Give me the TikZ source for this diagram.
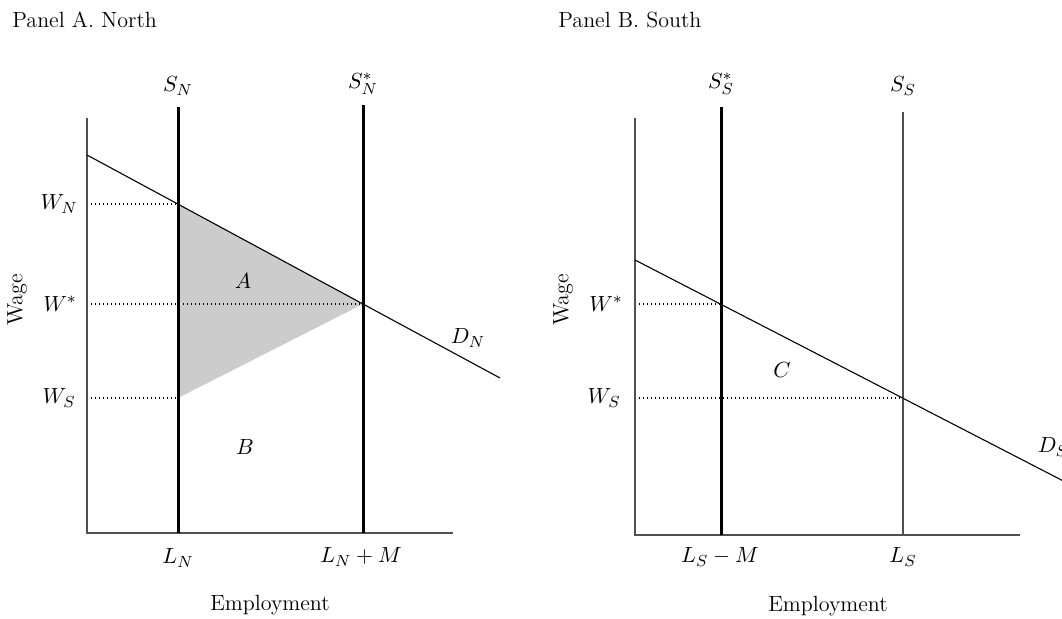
\documentclass[tikz,border=0pt]{standalone}
\usepackage{tikz}
\usetikzlibrary{calc}
\definecolor{grisf}{RGB}{80,80,80}
\definecolor{sombra}{RGB}{204,204,204}
\tikzset{
  eje/.style={draw=grisf, line width=0.55pt},
  ofgruesa/.style={draw=black, line width=1.5pt},
  dem/.style={draw=black, line width=0.55pt},
  guia/.style={draw=black, line width=0.55pt, dash pattern=on 0.5pt off 1.5pt},
  etq/.style={font=\fontsize{11}{13}\selectfont, inner sep=1pt},
  titulo/.style={font=\fontsize{11}{13}\selectfont, anchor=west, inner sep=0pt},
}

\begin{document}
\begin{tikzpicture}[x=0.5pt, y=-0.5pt]
  \clip (0,0) rectangle (1062,619);

  % Panel A: North
  \node[titulo] (tA) at (12,20) {Panel A. North};
  \coordinate (A0) at (87,533);
  \coordinate (Atop) at (87,118);
  \coordinate (Afin) at (453,533);
  \coordinate (ASn) at (178,107);  \coordinate (ASnb) at (178,533);
  \coordinate (ASe) at (363,105);  \coordinate (ASeb) at (363,533);
  \coordinate (AD0) at (87,155);   \coordinate (AD1) at (500,378);
  \coordinate (AwN) at (178,204);  \coordinate (Aeq) at (363,304);
  \coordinate (AwS) at (178,398);
  \coordinate (AyN) at (87,204);   \coordinate (Ayeq) at (87,304);
  \coordinate (AyS) at (87,398);

  \fill[sombra] (AwN) -- (Aeq) -- (AwS) -- cycle;
  \draw[guia] (AyN) -- (AwN);
  \draw[guia] (Ayeq) -- (Aeq);
  \draw[guia] (AyS) -- (AwS);
  \draw[eje] (Atop) -- (A0) -- (Afin);
  \draw[dem] (AD0) -- (AD1);
  \draw[ofgruesa] (ASn) -- (ASnb);
  \draw[ofgruesa] (ASe) -- (ASeb);

  \node[etq] (lSn) at (178,86) {$S_N$};
  \node[etq] (lSe) at (363,84) {$S_N^*$};
  \node[etq, anchor=east] (lwN) at (80,204) {$W_N$};
  \node[etq, anchor=east] (lweA) at (79,304) {$W^*$};
  \node[etq, anchor=east] (lwSA) at (78,398) {$W_S$};
  \node[etq, rotate=90] (wageA) at (17,300) {Wage};
  \node[etq] (rA) at (243,281) {$A$};
  \node[etq] (rB) at (245,447) {$B$};
  \node[etq] (lDN) at (468,338) {$D_N$};
  \node[etq] (lLN) at (178,558) {$L_N$};
  \node[etq] (lLNM) at (361,557) {$L_N + M$};
  \node[etq] (empA) at (270,605) {Employment};

  % Panel B: South
  \node[titulo] (tB) at (558,20) {Panel B. South};
  \coordinate (B0) at (635,535);
  \coordinate (Btop) at (635,118);
  \coordinate (Bfin) at (1020,535);
  \coordinate (BSe) at (721,107);  \coordinate (BSeb) at (721,535);
  \coordinate (BSs) at (903,112);  \coordinate (BSsb) at (903,535);
  \coordinate (BD0) at (635,260);  \coordinate (BD1) at (1075,487);
  \coordinate (Beq) at (721,304);  \coordinate (BwS) at (903,398);
  \coordinate (Byeq) at (635,304); \coordinate (ByS) at (635,398);

  \draw[guia] (Byeq) -- (Beq);
  \draw[guia] (ByS) -- (BwS);
  \draw[eje] (Btop) -- (B0) -- (Bfin);
  \draw[eje] (BSs) -- (BSsb);
  \draw[dem] (BD0) -- (BD1);
  \draw[ofgruesa] (BSe) -- (BSeb);

  \node[etq] (lSeB) at (721,84) {$S_S^*$};
  \node[etq] (lSs) at (903,86) {$S_S$};
  \node[etq, anchor=east] (lweB) at (625,304) {$W^*$};
  \node[etq, anchor=east] (lwSB) at (623,398) {$W_S$};
  \node[etq, rotate=90] (wageB) at (563,300) {Wage};
  \node[etq] (rC) at (782,370) {$C$};
  \node[etq] (lDS) at (1053,447) {$D_S$};
  \node[etq] (lLSM) at (720,557) {$L_S - M$};
  \node[etq] (lLS) at (903,557) {$L_S$};
  \node[etq] (empB) at (828,606) {Employment};
\end{tikzpicture}
\end{document}
